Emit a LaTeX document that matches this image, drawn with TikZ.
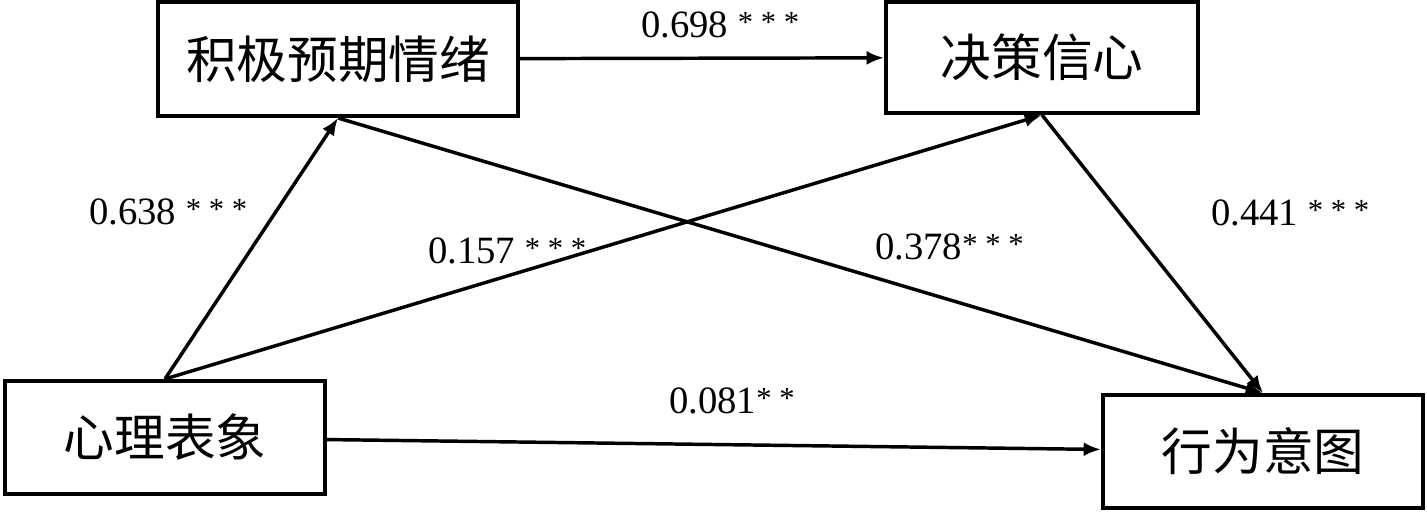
\documentclass[tikz,border=0pt]{standalone}
\usepackage{fontspec}
\setmainfont{Liberation Serif}
\newfontfamily\cjk{Noto Sans CJK SC}
\usetikzlibrary{arrows.meta}
\newcommand\starsx[1]{\raisebox{3.5pt}{\fontsize{23pt}{23pt}\selectfont #1}}
\tikzset{
  box/.style={draw, line width=3pt, inner sep=0pt, font=\cjk\fontsize{38pt}{40pt}\selectfont},
  conn/.style={line width=2.6pt, -{Latex[length=13pt,width=10.5pt]}},
  lab/.style={anchor=base west, inner sep=0pt, font=\fontsize{29pt}{30pt}\selectfont}
}
\begin{document}
\begin{tikzpicture}[x=0.75pt,y=-0.75pt]
\useasboundingbox (0,0) rectangle (1427,514);
\node[box, minimum width=270pt, minimum height=85.5pt] (A) at (338,59) {积极预期情绪};
\node[box, minimum width=234pt, minimum height=83.25pt] (B) at (1042,57.5) {决策信心};
\node[box, minimum width=240pt, minimum height=84.75pt] (C) at (165,437.5) {心理表象};
\node[box, minimum width=240pt, minimum height=84.75pt] (D) at (1263,451.5) {行为意图};

\draw[conn] (A) -- (B);
\draw[conn] (C) -- (D);
\draw[conn] (C.north) -- (A.south);
\draw[conn] (C.north) -- (B.south);
\draw[conn] (A.south) -- (D.north);
\draw[conn] (B.south) -- (D.north);

\node[lab] (l1) at (89,224) {0.638 \starsx{* * *}};
\node[lab] (l2) at (641,37) {0.698 \starsx{* * *}};
\node[lab] (l3) at (428,263) {0.157 \starsx{* * *}};
\node[lab] (l4) at (875,259) {0.378\starsx{* * *}};
\node[lab] (l5) at (1211,225) {0.441 \starsx{* * *}};
\node[lab] (l6) at (669,413) {0.081\starsx{* *}};
\end{tikzpicture}
\end{document}
